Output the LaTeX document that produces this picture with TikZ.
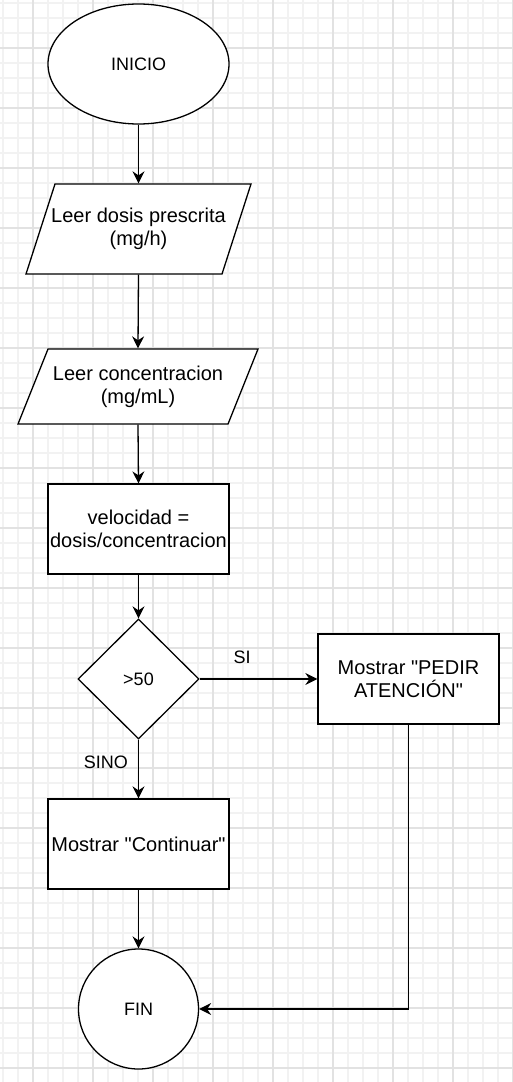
\documentclass[tikz,border=0pt]{standalone}
\usepackage{fontspec}
\setmainfont{Liberation Sans}
\usetikzlibrary{arrows.meta,shapes.geometric}
\definecolor{gridmajor}{RGB}{226,226,226}
\definecolor{gridminor}{RGB}{242,242,242}
\newcommand{\qq}{\XeTeXglyph\XeTeXcharglyph"22\relax}

\begin{document}
\begin{tikzpicture}[x=1pt,y=-1pt,line width=1.3pt,
		every node/.style={font=\fontsize{20}{23}\selectfont,align=center},
		lbl/.style={font=\fontsize{18}{22}\selectfont,inner sep=0pt},
		blk/.style={draw,fill=white,minimum width=181pt,minimum height=90pt,inner sep=0pt},
		arr/.style={-{Stealth[length=12pt,width=12pt,inset=4pt]}}]
		\useasboundingbox (0,0) rectangle (512,1082);
		\fill[white] (0,0) rectangle (512,1082);
		\foreach \x in {3,18,...,513} \draw[gridminor,line width=1.2pt] (\x,0) -- (\x,1082);
		\foreach \y in {3,18,...,1083} \draw[gridminor,line width=1.2pt] (0,\y) -- (512,\y);
		\foreach \x in {33,93,...,513} \draw[gridmajor,line width=1.2pt] (\x,0) -- (\x,1082);
		\foreach \y in {48,108,...,1068} \draw[gridmajor,line width=1.2pt] (0,\y) -- (512,\y);
		\node[draw,fill=white,ellipse,minimum width=181pt,minimum height=120pt,inner sep=0pt,lbl] (Inicio) at (138.5,64) {INICIO};
		\draw[fill=white] (55,184) -- (251,184) -- (222,274) -- (26,274) -- cycle;
		\node[minimum width=196pt,minimum height=90pt,inner sep=0pt] (Dosis) at (138.5,229) {Leer dosis prescrita\\(mg/h)};
		\draw[fill=white] (48,349) -- (258,349) -- (228,424) -- (18,424) -- cycle;
		\node[minimum width=210pt,minimum height=75pt,inner sep=0pt] (Conc) at (138,386.5) {Leer concentracion\\(mg/mL)};
		\node[blk] (Vel) at (138.5,529) {velocidad =\\dosis/concentracion};
		\node[draw,fill=white,diamond,minimum width=121pt,minimum height=120pt,inner sep=0pt,lbl] (Cond) at (138.5,679) {>50};
		\node[blk] (Pedir) at (408.5,679) {Mostrar \qq PEDIR\\ATENCIÓN\qq};
		\node[blk] (Cont) at (138.5,844) {Mostrar \qq Continuar\qq};
		\node[draw,fill=white,circle,minimum size=120pt,inner sep=0pt,lbl] (Fin) at (138.5,1009) {FIN};
		\draw[arr] (Inicio.south) -- (Dosis.north);
		\draw[arr] (Dosis.south) -- (Conc.north);
		\draw[arr] (Conc.south) -- (Vel.north);
		\draw[arr] (Vel.south) -- (Cond.north);
		\draw[arr] (Cond.east) -- node[lbl,pos=0.36,above=15pt]{SI} (Pedir.west);
		\draw[arr] (Cond.south) -- node[lbl,pos=0.38,left=10pt]{SINO} (Cont.north);
		\draw[arr] (Cont.south) -- (Fin.north);
		\draw[arr] (Pedir.south) |- (Fin.east);
	\end{tikzpicture}
\end{document}
